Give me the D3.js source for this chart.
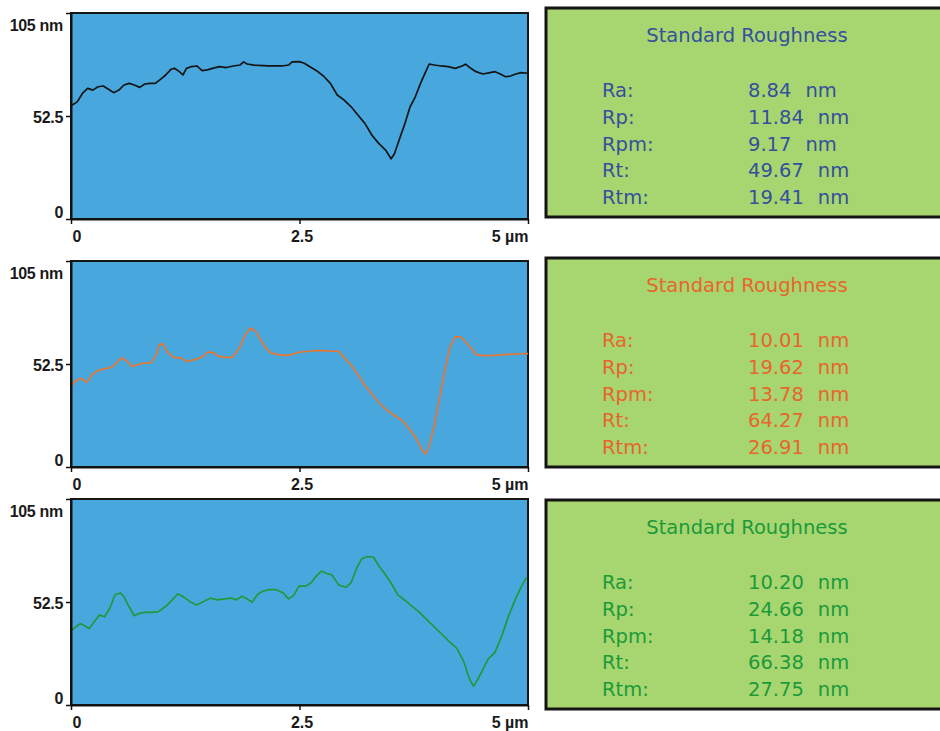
<!DOCTYPE html>
<html>
<head>
<meta charset="utf-8">
<script src="https://cdn.jsdelivr.net/npm/d3@7/dist/d3.min.js"></script>
<style>
  html, body { margin: 0; padding: 0; background: #ffffff; }
  svg { display: block; }
</style>
</head>
<body>
<svg id="chart" width="940" height="731"></svg>
<script>
// Surface height profiles (position in µm, height in nm) for three scans
const profileX1 = [0.011,0.068,0.125,0.182,0.239,0.296,0.353,0.410,0.467,0.524,0.580,0.637,0.694,0.751,0.808,0.865,0.922,0.979,1.036,1.093,1.131,1.187,1.225,1.263,1.320,1.377,1.434,1.491,1.548,1.624,1.700,1.775,1.851,1.889,1.927,2.003,2.155,2.307,2.382,2.420,2.496,2.553,2.610,2.686,2.762,2.838,2.913,2.989,3.065,3.141,3.217,3.293,3.369,3.445,3.502,3.539,3.596,3.653,3.710,3.767,3.824,3.881,3.919,3.976,4.052,4.127,4.203,4.279,4.317,4.374,4.431,4.507,4.583,4.640,4.697,4.754,4.810,4.867,4.924,4.992];
const profileZ1 = [58.0,59.7,64.0,66.6,65.7,67.4,67.8,66.1,64.4,65.7,68.3,69.1,68.3,67.1,68.8,69.1,69.1,71.2,73.4,76.3,76.8,75.1,73.4,76.8,77.7,78.0,75.6,76.0,76.8,77.7,77.2,78.0,78.5,80.1,79.0,78.4,78.0,78.0,78.5,80.1,80.2,79.4,77.7,75.6,72.9,69.1,63.2,60.6,57.2,52.9,48.6,42.7,38.4,35.0,30.7,33.3,41.0,48.6,57.2,62.3,69.1,75.1,79.0,78.5,78.0,77.7,76.8,78.0,78.9,76.8,75.1,73.9,74.6,75.1,73.9,72.5,72.9,73.9,74.6,74.3];

const profileX2 = [0.011,0.057,0.114,0.171,0.228,0.285,0.361,0.437,0.494,0.551,0.608,0.665,0.741,0.817,0.875,0.932,0.970,1.008,1.046,1.122,1.198,1.274,1.350,1.426,1.502,1.559,1.616,1.692,1.768,1.844,1.901,1.958,2.015,2.072,2.129,2.186,2.262,2.338,2.414,2.490,2.605,2.719,2.833,2.928,2.985,3.061,3.137,3.213,3.289,3.365,3.441,3.536,3.631,3.707,3.783,3.840,3.878,3.916,3.973,4.030,4.087,4.144,4.202,4.259,4.316,4.373,4.430,4.506,4.620,4.734,4.886,5.000];
const profileZ2 = [41.7,44.3,45.1,43.1,46.9,49.0,50.0,50.7,53.0,55.6,54.2,51.2,52.4,53.0,53.0,57.3,62.5,62.8,59.0,55.9,55.6,53.8,54.7,55.9,58.7,58.2,56.4,55.9,55.9,60.8,66.8,70.8,69.4,65.1,60.8,58.2,57.3,56.9,57.3,58.5,59.0,59.4,59.0,59.0,55.9,52.1,47.2,41.7,37.3,33.0,29.5,26.4,23.4,19.1,13.9,8.7,6.6,10.4,20.8,34.7,48.6,60.8,66.3,66.3,63.9,60.8,57.3,56.8,56.9,57.3,57.6,57.8];

const profileX3 = [0.008,0.065,0.103,0.140,0.197,0.254,0.311,0.368,0.425,0.482,0.539,0.577,0.634,0.691,0.748,0.805,0.881,0.957,1.033,1.109,1.166,1.222,1.298,1.374,1.450,1.526,1.602,1.678,1.754,1.811,1.868,1.925,1.982,2.039,2.096,2.172,2.248,2.323,2.380,2.437,2.494,2.570,2.627,2.684,2.741,2.798,2.855,2.931,3.007,3.064,3.121,3.178,3.235,3.311,3.368,3.424,3.500,3.576,3.690,3.804,3.918,4.032,4.146,4.222,4.298,4.355,4.404,4.450,4.507,4.563,4.639,4.715,4.791,4.867,4.924,4.981];
const profileZ3 = [38.1,40.3,41.5,40.7,38.9,42.4,45.8,45.0,49.3,56.2,57.1,55.4,50.2,45.5,46.7,47.2,47.2,47.6,50.2,53.6,56.6,55.4,52.8,51.0,52.8,54.5,53.6,54.1,54.5,53.6,55.4,54.1,52.4,56.2,58.0,58.8,58.8,57.1,54.1,55.9,60.6,60.6,62.3,65.7,68.3,67.0,66.3,61.1,60.0,62.3,69.2,74.4,75.6,75.3,70.9,67.5,62.3,56.2,51.9,47.6,42.4,37.2,32.0,28.9,22.0,13.8,9.5,13.0,18.2,23.4,26.8,35.5,45.8,54.5,60.0,64.9];

// Roughness parameters (nm) for each scan
const statTitle = "Standard Roughness";
const statLabels = ["Ra:", "Rp:", "Rpm:", "Rt:", "Rtm:"];
const statUnit = "nm";
const stats1 = [8.84, 11.84, 9.17, 49.67, 19.41];
const stats2 = [10.01, 19.62, 13.78, 64.27, 26.91];
const stats3 = [10.20, 24.66, 14.18, 66.38, 27.75];

// Axis ticks
const xTicks = [0, 2.5, 5];
const xTickLabels = ["0", "2.5", "5 µm"];
const yTicks = [0, 52.5, 105];
const yTickLabels = ["0", "52.5", "105 nm"];

const traceColors = ["#141414", "#e8742e", "#1f9a3c"];
const textColors = ["#34509c", "#e8652c", "#1c9a3a"];

const panels = [
  { x: profileX1, z: profileZ1, stats: stats1 },
  { x: profileX2, z: profileZ2, stats: stats2 },
  { x: profileX3, z: profileZ3, stats: stats3 }
];

const svg = d3.select("#chart");

const plotLeft = 71, plotRight = 528, plotH = 206, firstTop = 13;
const panelOffsets = [0, 248, 486];
const boxOffsets = [0, 250, 492];
const boxLeft = 546, boxTop = 8, boxH = 209;

const x = d3.scaleLinear().domain([0, 5]).range([plotLeft, plotRight]);
const fmt = d3.format(".2f");
const axisFont = "'Liberation Sans', Arial, sans-serif";
const boxFont = "'DejaVu Sans', Verdana, sans-serif";

panels.forEach((p, i) => {
  const top = firstTop + panelOffsets[i];
  const bottom = top + plotH;
  const y = d3.scaleLinear().domain([0, 105]).range([bottom, top]);
  const g = svg.append("g");

  // plot background
  g.append("rect")
    .attr("x", plotLeft).attr("y", top)
    .attr("width", plotRight - plotLeft).attr("height", plotH)
    .attr("fill", "#48a8de")
    .attr("stroke", "#161616").attr("stroke-width", 2);

  // profile trace
  g.append("path")
    .datum(d3.zip(p.x, p.z))
    .attr("fill", "none")
    .attr("stroke", traceColors[i])
    .attr("stroke-width", 1.7)
    .attr("stroke-linejoin", "round")
    .attr("d", d3.line().x(d => x(d[0])).y(d => y(d[1])));

  // x axis
  const ax = g.append("g")
    .attr("transform", `translate(0,${bottom})`)
    .call(d3.axisBottom(x).tickValues(xTicks).tickSize(5).tickSizeOuter(0)
      .tickFormat((d, j) => xTickLabels[j]));
  ax.select(".domain").attr("stroke", "#111").attr("stroke-width", 2);
  ax.selectAll(".tick line").attr("stroke", "#111").attr("stroke-width", 1.5);
  ax.selectAll(".tick text")
    .attr("y", 17).attr("dy", "0.36em")
    .attr("text-anchor", (d, j) => j === 0 ? "start" : (j === xTicks.length - 1 ? "end" : "middle"))
    .attr("dx", (d, j) => j === 0 ? 1 : (j === xTicks.length - 1 ? 0 : 2))
    .attr("fill", "#1a1a1a")
    .style("font-family", axisFont)
    .style("font-weight", "bold")
    .style("font-size", "16px");

  // y axis
  const ay = g.append("g")
    .attr("transform", `translate(${plotLeft},0)`)
    .call(d3.axisLeft(y).tickValues(yTicks).tickSize(5).tickSizeOuter(0)
      .tickFormat((d, j) => yTickLabels[j]));
  ay.select(".domain").attr("stroke", "#111").attr("stroke-width", 2);
  ay.selectAll(".tick line").attr("stroke", "#111").attr("stroke-width", 1.5);
  const yLabelShift = [-7, 1, 12];
  ay.selectAll(".tick text")
    .attr("x", -8)
    .attr("dy", "0.36em")
    .attr("transform", (d, j) => `translate(0,${yLabelShift[j]})`)
    .attr("fill", "#1a1a1a")
    .style("font-family", axisFont)
    .style("font-weight", "bold")
    .style("font-size", "16px")
    .style("letter-spacing", "-0.3px");

  // roughness summary box
  const bTop = boxTop + boxOffsets[i];
  const b = svg.append("g");
  b.append("rect")
    .attr("x", boxLeft).attr("y", bTop)
    .attr("width", 440).attr("height", boxH)
    .attr("fill", "#a7d570")
    .attr("stroke", "#141414").attr("stroke-width", 3);

  const tc = textColors[i];
  b.append("text")
    .attr("x", 747).attr("y", bTop + 27).attr("dy", "0.36em")
    .attr("text-anchor", "middle")
    .attr("fill", tc)
    .style("font-family", boxFont).style("font-size", "19.5px")
    .text(statTitle);

  statLabels.forEach((lab, k) => {
    const cy = bTop + 82 + k * 26.8;
    b.append("text")
      .attr("x", 602).attr("y", cy).attr("dy", "0.36em")
      .attr("fill", tc)
      .style("font-family", boxFont).style("font-size", "19.5px")
      .text(lab);
    const t = b.append("text")
      .attr("x", 748).attr("y", cy).attr("dy", "0.36em")
      .attr("fill", tc)
      .style("font-family", boxFont).style("font-size", "19.5px");
    t.append("tspan").text(fmt(p.stats[k]));
    t.append("tspan").attr("dx", 14).text(statUnit);
  });
});
</script>
</body>
</html>
